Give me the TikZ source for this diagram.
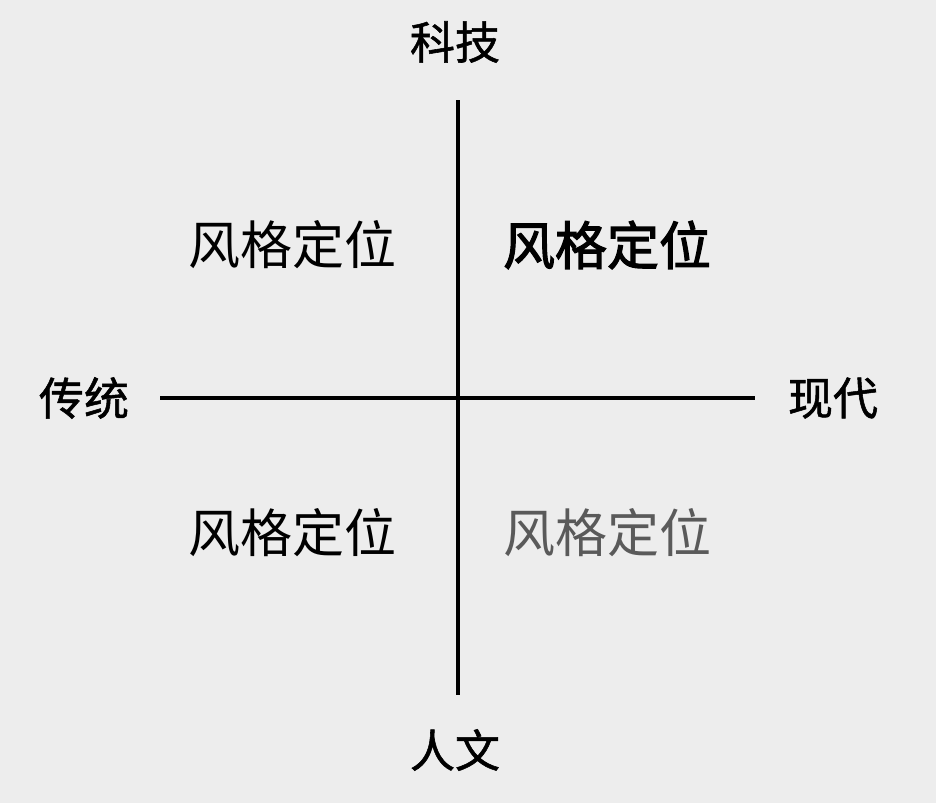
\documentclass[tikz,border=0pt]{standalone}
\usepackage{fontspec}
\newfontfamily\cjk{Noto Sans CJK SC}
\newfontfamily\cjkmid{Noto Sans CJK SC}[FakeBold=1.2]
\newfontfamily\cjkheavy{Noto Sans CJK SC}[FakeBold=2.2]
\usetikzlibrary{positioning}
\definecolor{bgcolor}{HTML}{EDEDED}
\definecolor{softgray}{HTML}{5A5A5A}

\begin{document}
\begin{tikzpicture}[
  x=1pt, y=-1pt,
  axis/.style={draw=black, line width=3.4pt},
  polelabel/.style={font=\cjkmid\fontsize{45}{50}\selectfont, inner sep=0pt},
  quadlabel/.style={font=\cjk\fontsize{52}{58}\selectfont, inner sep=0pt},
  quadbold/.style={quadlabel, font=\cjkheavy\fontsize{52}{58}\selectfont},
  quadsoft/.style={quadlabel, text=softgray}
]

% Background fixes the page size.
\fill[bgcolor] (0,0) rectangle (936,803);
\useasboundingbox (0,0) rectangle (936,803);

% Axis end points.
\coordinate (top)    at (458,100);
\coordinate (bottom) at (458,695);
\coordinate (left)   at (160,398);
\coordinate (right)  at (755,398);

\draw[axis] (top) -- (bottom);
\draw[axis] (left) -- (right);

% Pole labels.
\node[polelabel] (tech)   at (455,42)  {科技};
\node[polelabel] (human)  at (455,750) {人文};
\node[polelabel] (trad)   at (84,398)  {传统};
\node[polelabel] (modern) at (833,398) {现代};

% Quadrant labels.
\node[quadlabel] (q2) at (292,245) {风格定位};
\node[quadbold]  (q1) at (607,245) {风格定位};
\node[quadlabel] (q3) at (292,533) {风格定位};
\node[quadsoft]  (q4) at (607,533) {风格定位};

\end{tikzpicture}
\end{document}
